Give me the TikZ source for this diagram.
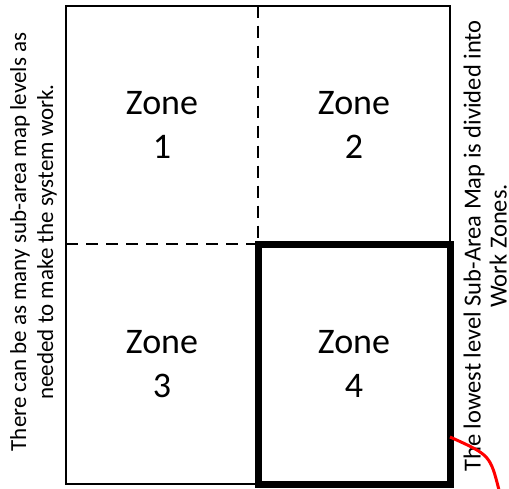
\documentclass[tikz,border=0pt]{standalone}
\usepackage{fontspec}
\setmainfont{Carlito}
\usetikzlibrary{positioning}

\begin{document}
\begin{tikzpicture}[x=1pt,y=-1pt,
  zone/.style={align=center,font=\fontsize{36}{44}\selectfont},
  note/.style={align=center,rotate=90,inner sep=0pt,anchor=south},
  divider/.style={line width=2pt,dash pattern=on 12pt off 8pt}]
\useasboundingbox (0,0) rectangle (509,488);
\draw[line width=2pt] (66,5.5) rectangle (450,484);
\draw[divider] (258,5.5) -- (258,244);
\draw[divider] (66,244) -- (258,244);
\draw[line width=7pt] (258.5,244) rectangle (450,484.5);
\node[zone] (zone1) at (162,125) {Zone\\1};
\node[zone] (zone2) at (354,125) {Zone\\2};
\node[zone] (zone3) at (162,364) {Zone\\3};
\node[zone] (zone4) at (354,364) {Zone\\4};
\node[note,font=\fontsize{23}{27}\selectfont] (leftnote) at (57,242) {There can be as many sub-area map levels as\\needed to make the system work.};
\node[note,font=\fontsize{24.5}{26}\selectfont] (rightnote) at (507,246) {The lowest level Sub-Area Map is divided into\\Work Zones.};
\coordinate (tail) at (450,437);
\coordinate (tip) at (499,490);
\draw[red,line width=3pt] (tail) .. controls (490,455) .. (tip);
\end{tikzpicture}
\end{document}
